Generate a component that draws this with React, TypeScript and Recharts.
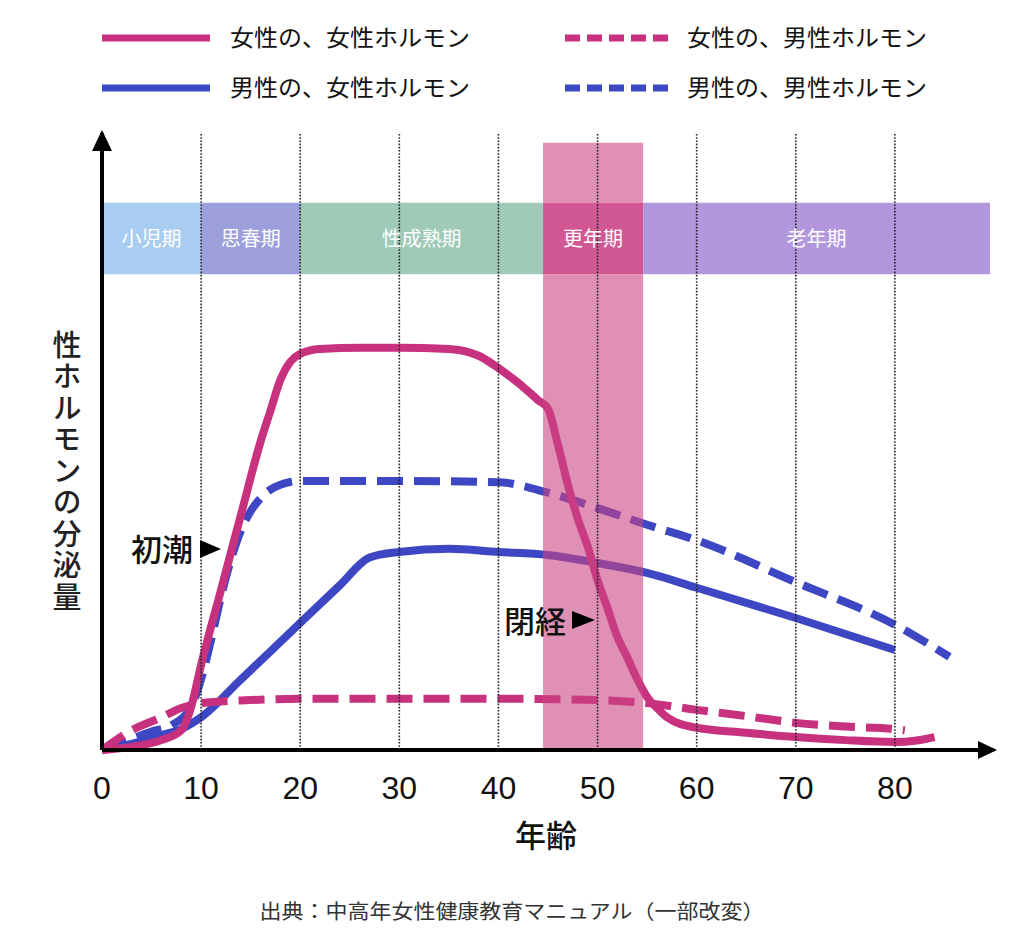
import React from "react";
import {
  LineChart,
  Line,
  XAxis,
  YAxis,
  ReferenceLine,
  ReferenceArea,
  ReferenceDot,
  Legend
} from "recharts";

const PINK = "#c8317d";
const BLUE = "#3d47c3";
const JP = '"Noto Sans CJK JP", "Noto Sans", sans-serif';
const NUM = '"Liberation Sans", Arial, sans-serif';

// 女性の、女性ホルモン
const femaleEstrogenAges = [0, 3, 6, 8, 9, 10, 12, 14, 16, 17, 18, 19, 20, 22, 26, 30, 35, 38, 40, 42, 44, 45, 46, 47, 48, 49, 50, 51, 52, 53, 54, 55, 56, 57, 60, 65, 70, 75, 80, 82, 84];
const femaleEstrogenValues = [0, 0.5, 1.6, 3.2, 7, 13.8, 25.9, 38, 50, 55, 60, 62.9, 64.2, 65, 65.2, 65.2, 65, 63.9, 61.9, 59.5, 56.7, 55.3, 49.5, 43, 37.5, 33, 27.5, 23, 18.3, 15, 11.5, 8.6, 6.8, 5.3, 3.6, 2.8, 2.1, 1.6, 1.3, 1.5, 2.1];

// 女性の、男性ホルモン
const femaleAndrogenAges = [0, 3, 6, 8, 10, 15, 20, 30, 40, 50, 55, 60, 65, 70, 75, 80, 81];
const femaleAndrogenValues = [0, 3.2, 5.3, 6.8, 7.6, 8.1, 8.3, 8.3, 8.3, 8.1, 7.6, 6.5, 5.5, 4.4, 3.8, 3.4, 3.2];

// 男性の、女性ホルモン
const maleEstrogenAges = [0, 3, 6, 8, 10, 14, 20, 24, 27, 30, 35, 40, 45, 50, 55, 60, 70, 80];
const maleEstrogenValues = [0, 1, 2.4, 3.4, 5.3, 11.4, 20.6, 26.7, 31.2, 32.1, 32.6, 32.1, 31.6, 30.3, 28.7, 26.3, 21.4, 16.2];

// 男性の、男性ホルモン
const maleAndrogenAges = [0, 3, 5, 7, 9, 10, 11, 12, 13, 14, 15, 16, 17, 18, 20, 30, 40, 45, 50, 55, 60, 70, 80, 85.5];
const maleAndrogenValues = [0, 1.8, 3, 4, 7, 11.5, 17.8, 24.8, 30.8, 35.5, 38.7, 40.8, 42.2, 43, 43.6, 43.6, 43.4, 41.7, 39.2, 36.5, 34, 27.2, 20.3, 15.1];

const tickAges = [0, 10, 20, 30, 40, 50, 60, 70, 80];
const gridAges = [10, 20, 30, 40, 50, 60, 70, 80];

// ライフステージ
const phaseNames = ["小児期", "思春期", "性成熟期", "更年期", "老年期"];
const phaseStarts = [0, 10, 20, 44.5, 54.6];
const phaseEnds = [10, 20, 44.5, 54.6, 89.6];
const phaseColors = ["#a9cdf0", "#9c9fdc", "#9ecab7", "#d15893", "#b397dc"];
const menopauseStart = 44.5;
const menopauseEnd = 54.6;

const toPoints = (ages: number[], vals: number[]) =>
  ages.map((age, i) => ({ age, v: vals[i] }));

const series = [
  { name: "女性の、女性ホルモン", color: PINK, dashed: false, data: toPoints(femaleEstrogenAges, femaleEstrogenValues) },
  { name: "女性の、男性ホルモン", color: PINK, dashed: true, data: toPoints(femaleAndrogenAges, femaleAndrogenValues) },
  { name: "男性の、女性ホルモン", color: BLUE, dashed: false, data: toPoints(maleEstrogenAges, maleEstrogenValues) },
  { name: "男性の、男性ホルモン", color: BLUE, dashed: true, data: toPoints(maleAndrogenAges, maleAndrogenValues) }
];
// draw order: blue first, pink solid last
const drawOrder = [3, 2, 1, 0];

const BAR_LOW = 77.1;
const BAR_HIGH = 88.7;
const BAND_TOP = 98.4;

const AgeTick = (props: any) => {
  const { x, payload } = props;
  return (
    <text x={x} y={799} textAnchor="middle" fontSize={32} fill="#111" fontFamily={NUM}>
      {payload.value}
    </text>
  );
};

const renderLegend = () => (
  <svg width={1024} height={115}>
    {series.map((s, i) => {
      const col = i % 2;
      const row = Math.floor(i / 2);
      const y = 38 + row * 50;
      const x0 = col === 0 ? 102 : 565;
      const x1 = col === 0 ? 210 : 670;
      const tx = col === 0 ? 230 : 687;
      return (
        <g key={s.name}>
          <line x1={x0} x2={x1} y1={y} y2={y} stroke={s.color} strokeWidth={7}
            strokeDasharray={s.dashed ? "15 7" : undefined} />
          <text x={tx} y={y + 8} fontSize={23} fontFamily={JP} fill="#111"
            textLength={240} lengthAdjust="spacingAndGlyphs">{s.name}</text>
        </g>
      );
    })}
  </svg>
);

export default function App() {
  return (
    <div style={{ position: "absolute", left: 0, top: 0, width: 1024, height: 940, background: "#fff" }}>
      <LineChart width={1024} height={940} margin={{ top: 133, right: 30, bottom: 160, left: 100 }}>
        <XAxis type="number" dataKey="age" domain={[0, 90]} ticks={tickAges} interval={0}
          height={30} axisLine={{ stroke: "#000", strokeWidth: 4 }} tickLine={false}
          tick={<AgeTick />} />
        <YAxis type="number" domain={[0, 100]} width={2} tick={false} tickLine={false}
          axisLine={{ stroke: "#000", strokeWidth: 4 }} />
        <Legend layout="horizontal" verticalAlign="middle" align="center"
          wrapperStyle={{ top: 0, left: 0, width: 1024, height: 115 }} content={renderLegend} />

        {phaseNames.map((name, i) => (
          <ReferenceArea key={name} x1={phaseStarts[i]} x2={phaseEnds[i]} y1={BAR_LOW} y2={BAR_HIGH}
            fill={phaseColors[i]} fillOpacity={1} ifOverflow="visible" zIndex={100}
            label={{ value: name, position: "center", fill: "#fff", fontSize: 20, fontFamily: JP }} />
        ))}

        {drawOrder.map(idx => {
          const s = series[idx];
          return (
            <Line key={s.name} data={s.data} dataKey="v" name={s.name} type="monotone"
              stroke={s.color} strokeWidth={8} strokeDasharray={s.dashed ? "26 11" : undefined}
              strokeLinejoin="round" dot={false} activeDot={false} isAnimationActive={false} />
          );
        })}

        <ReferenceArea x1={menopauseStart} x2={menopauseEnd} y1={0} y2={BAR_LOW}
          fill="#cb4484" fillOpacity={0.6} ifOverflow="visible" zIndex={450} isFront />
        <ReferenceArea x1={menopauseStart} x2={menopauseEnd} y1={BAR_HIGH} y2={BAND_TOP}
          fill="#cb4484" fillOpacity={0.6} ifOverflow="visible" zIndex={450} isFront />

        {gridAges.map(a => (
          <ReferenceLine key={a} x={a} stroke="#222" strokeWidth={1.6} strokeDasharray="1.6 1.6"
            zIndex={500} isFront />
        ))}

        <ReferenceDot x={90} y={0} ifOverflow="visible" zIndex={600} isFront
          shape={(p: any) => (
            <polygon points={`${p.cx + 3},${p.cy} ${p.cx - 16},${p.cy - 9} ${p.cx - 16},${p.cy + 9}`} fill="#000" />
          )} />
        <ReferenceDot x={0} y={100} ifOverflow="visible" zIndex={600} isFront
          shape={(p: any) => (
            <polygon points={`${p.cx},${p.cy - 3} ${p.cx - 10},${p.cy + 18} ${p.cx + 10},${p.cy + 18}`} fill="#000" />
          )} />
      </LineChart>

      <svg width={1024} height={940} style={{ position: "absolute", left: 0, top: 0, pointerEvents: "none" }}>
        <text x={67} y={330} fontSize={29} fontFamily={JP} fontWeight={500} fill="#222"
          style={{ writingMode: "vertical-rl", letterSpacing: "2.5px" }}>
          性ホルモンの分泌量
        </text>
        <text x={546} y={833} textAnchor="middle" dominantBaseline="central" fontSize={31}
          fontFamily={JP} fontWeight={500} fill="#111">年齢</text>
        <text x={512} y={910} textAnchor="middle" dominantBaseline="central" fontSize={20}
          fontFamily={JP} fill="#333" textLength={505} lengthAdjust="spacingAndGlyphs">
          出典：中高年女性健康教育マニュアル（一部改変）
        </text>

        <text x={131} y={547} dominantBaseline="central" fontSize={31} fontFamily={JP}
          fontWeight={500} fill="#111">初潮</text>
        <polygon points="200,540 221,549 200,558" fill="#000" />
        <text x={504} y={619} dominantBaseline="central" fontSize={31} fontFamily={JP}
          fontWeight={500} fill="#111">閉経</text>
        <polygon points="572,611 595,620 572,629" fill="#000" />
      </svg>
    </div>
  );
}
